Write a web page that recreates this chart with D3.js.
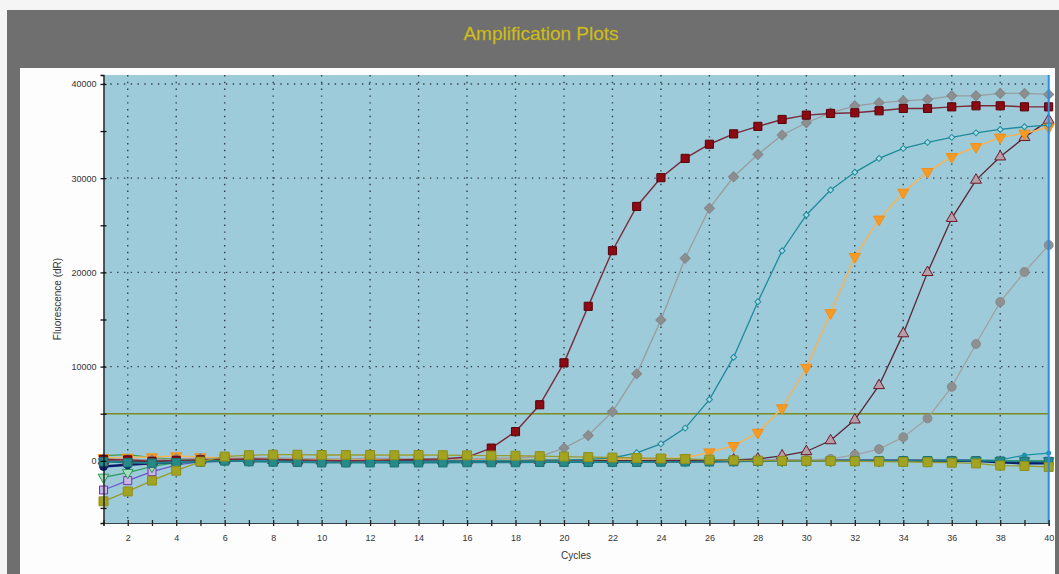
<!DOCTYPE html>
<html>
<head>
<meta charset="utf-8">
<script src="https://cdn.jsdelivr.net/npm/d3@7"></script>
<style>
  html, body { margin: 0; padding: 0; background: #f3f3f3; }
  svg { display: block; font-family: "Liberation Sans", Arial, sans-serif; }
</style>
</head>
<body>
<svg id="chart" width="1059" height="574"></svg>
<script>
// Cycle numbers (x categories)
const cycles = [1,2,3,4,5,6,7,8,9,10,11,12,13,14,15,16,17,18,19,20,
                21,22,23,24,25,26,27,28,29,30,31,32,33,34,35,36,37,38,39,40];

// Fluorescence (dR) per cycle for each well
const redSquares = [150,100,-50,50,100,150,200,150,100,50,0,50,100,150,200,400,1350,3100,5950,10400,
                    16400,22300,27000,30050,32100,33600,34700,35500,36230,36690,36870,36940,37150,37400,37400,37570,37680,37680,37570,37570];
const grayDiamonds = [200,150,100,200,250,250,300,300,250,200,200,250,250,200,200,200,250,300,450,1350,
                      2680,5200,9230,14950,21500,26800,30150,32520,34570,35880,36940,37680,38000,38210,38360,38740,38740,38990,38990,38890];
const tealDiamonds = [-50,-150,-200,-100,0,50,50,0,-50,-50,0,0,-50,-50,0,0,50,50,100,100,
                      150,300,850,1800,3470,6500,11000,16890,22300,26090,28740,30620,32100,33160,33800,34330,34810,35170,35450,35630];
const orangeTriangles = [300,350,400,500,400,300,250,200,200,150,150,150,200,200,200,200,200,150,150,150,
                         150,200,200,250,300,920,1590,3000,5600,9900,15700,21670,25630,28490,30680,32270,33330,34330,34750,35400];
const maroonTriangles = [0,-50,-100,0,50,100,100,50,0,0,0,50,50,0,0,0,0,0,50,50,
                         50,50,50,50,50,100,100,200,530,990,2150,4350,8000,13500,20000,25740,29800,32270,34330,36160];
const grayCircles = [100,50,0,50,100,150,150,100,100,50,50,100,100,100,50,50,50,100,100,100,
                     100,50,50,50,100,100,100,100,100,100,200,640,1240,2510,4500,7850,12400,16860,20040,22900];

// Wells that stay at baseline
const oliveSquares = [-4300,-3250,-2100,-1050,-80,450,600,650,650,620,620,620,600,620,600,580,560,540,500,450,
                      400,350,300,250,200,120,60,20,0,0,-20,-50,-80,-120,-150,-200,-280,-500,-550,-650];
const tealSquares = [-100,-200,-250,-200,-100,0,-80,-120,-150,-200,-200,-200,-200,-200,-200,-180,-180,-180,-150,-150,
                     -150,-150,-150,-120,-100,-100,-80,-50,-50,-30,0,0,0,0,0,0,0,-50,-80,-100];
const purpleSquares = [-3100,-2100,-1150,-450,-100,0,50,100,100,50,0,0,50,50,50,0,0,0,20,20,
                       0,0,-20,-20,0,0,20,0,0,0,0,-20,-20,0,0,0,0,-50,-50,-50];
const greenTriangles = [-1750,-1250,-600,-200,0,50,50,0,0,-50,-50,0,0,0,50,50,0,0,0,0,
                        -20,-20,0,0,0,20,20,0,0,0,0,0,0,-20,-20,0,0,0,0,0];
const navyCircles = [-600,-420,-250,-150,-50,0,50,50,0,0,-50,-50,0,0,0,0,0,-50,-50,-50,
                     -50,-50,-50,-50,-50,-50,0,0,0,0,0,0,0,0,0,0,0,-150,-250,-250];
const cyanLine = [0,-100,-100,-50,0,0,0,-50,-50,-50,-50,-50,-50,-50,-50,-50,-50,-50,-50,-50,
                  -50,-50,-50,-50,-50,-50,-50,0,0,0,0,0,0,0,50,50,50,100,600,820];
const greenLine = [550,650,350,150,50,0,0,20,20,20,0,0,0,20,20,0,0,0,0,0,
                   0,0,0,0,0,0,0,0,0,0,0,0,0,0,0,0,0,-50,-50,-50];

// Threshold and axis ticks
const threshold = 5000;
const yLabelTicks = [0, 10000, 20000, 30000, 40000];
const yMinorTicks = [-5000, 5000, 15000, 25000, 35000];
const xLabelTicks = [2,4,6,8,10,12,14,16,18,20,22,24,26,28,30,32,34,36,38,40];

const svg = d3.select("#chart");
const W = 1059, H = 574;

// Frame: grey window with title bar and white chart panel
svg.append("rect").attr("x", 0).attr("y", 0).attr("width", W).attr("height", H).attr("fill", "#f5f5f5");
svg.append("rect").attr("x", 7).attr("y", 10).attr("width", W - 7).attr("height", H - 10).attr("fill", "#6f6f6f");
svg.append("rect").attr("x", 20).attr("y", 68).attr("width", 1035).attr("height", H - 68).attr("fill", "#fdfdfd");
svg.append("text").attr("x", 541).attr("y", 40).attr("text-anchor", "middle")
  .attr("font-size", 19).attr("fill", "#d3c022").attr("stroke", "#b8a618").attr("stroke-width", 0.3)
  .text("Amplification Plots");

const plot = { left: 103.5, right: 1048.7, top: 75, bottom: 523 };
const x = d3.scaleLinear().domain([1, 40]).range([plot.left, plot.right]);
const y = d3.scaleLinear().domain([-6600, 40950]).range([plot.bottom, plot.top]);

svg.append("rect").attr("x", plot.left).attr("y", plot.top)
  .attr("width", plot.right - plot.left).attr("height", plot.bottom - plot.top).attr("fill", "#9dcbd9");

// Dotted grid
const grid = svg.append("g").attr("stroke", "#24343f").attr("stroke-width", 1.4)
  .attr("stroke-dasharray", "1.4,5.4").attr("opacity", 0.9);
grid.selectAll("line.v").data(xLabelTicks.filter(d => d < 40)).join("line")
  .attr("x1", d => x(d)).attr("x2", d => x(d)).attr("y1", plot.top).attr("y2", plot.bottom);
grid.selectAll("line.h").data(yLabelTicks.filter(d => d > 0)).join("line")
  .attr("x1", plot.left).attr("x2", plot.right).attr("y1", d => y(d)).attr("y2", d => y(d));

// Threshold line
svg.append("line").attr("x1", plot.left).attr("x2", plot.right)
  .attr("y1", y(threshold)).attr("y2", y(threshold))
  .attr("stroke", "#7f8a1c").attr("stroke-width", 1.6);

// Series definitions (drawn in order); diamonds are squares turned 45 degrees
const series = [
  { v: greenLine, line: "#3c9c48", w: 1.2, sym: null },
  { v: purpleSquares, line: "#6a5ac8", w: 1.2, sym: d3.symbolSquare, size: 64, fill: "#c9b6e8", stroke: "#7a2fb0" },
  { v: greenTriangles, line: "#2a9a5a", w: 1.2, sym: d3.symbolTriangle, size: 50, fill: "#a8dcc0", stroke: "#2a9a50", rot: 180 },
  { v: navyCircles, line: "#0c1a6a", w: 2.6, sym: d3.symbolCircle, size: 50, fill: "#0c1f7a", stroke: "#0c1a6a" },
  { v: cyanLine, line: "#1a93a8", w: 1.2, sym: d3.symbolCircle, size: 14, fill: "#1a93a8", stroke: "#1a93a8" },
  { v: grayCircles, line: "#a2a2a2", w: 1.3, sym: d3.symbolCircle, size: 62, fill: "#8e9090", stroke: "#8a8a8a" },
  { v: maroonTriangles, line: "#5a2434", w: 1.3, sym: d3.symbolTriangle, size: 52, fill: "#b79ea6", stroke: "#6e1828" },
  { v: orangeTriangles, line: "#f5b458", w: 1.5, sym: d3.symbolTriangle, size: 55, fill: "#f49a25", stroke: "#f28f18", rot: 180 },
  { v: tealDiamonds, line: "#1f8a9c", w: 1.3, sym: d3.symbolSquare, size: 18, fill: "#a9dbe0", stroke: "#1f8a9c", rot: 45 },
  { v: grayDiamonds, line: "#9a9c9e", w: 1.3, sym: d3.symbolSquare, size: 50, fill: "#8c8e90", stroke: "#858789", rot: 45 },
  { v: redSquares, line: "#7a2a3a", w: 1.4, sym: d3.symbolSquare, size: 66, fill: "#8c0a12", stroke: "#5a0008" },
  { v: tealSquares, line: "#1f7f86", w: 1.6, sym: d3.symbolSquare, size: 72, fill: "#258a88", stroke: "#1d7372" },
  { v: oliveSquares, line: "#9a9a2c", w: 1.3, sym: d3.symbolSquare, size: 80, fill: "#a3a322", stroke: "#8e8e1a" }
];

const lineGen = d3.line().x((d, i) => x(cycles[i])).y(d => y(d));
svg.append("clipPath").attr("id", "plotclip").append("rect")
  .attr("x", plot.left - 6).attr("y", plot.top).attr("width", plot.right - plot.left + 12)
  .attr("height", plot.bottom - plot.top);
const curves = svg.append("g").attr("clip-path", "url(#plotclip)");

series.forEach(s => {
  const g = curves.append("g");
  g.append("path").datum(s.v).attr("d", lineGen)
    .attr("fill", "none").attr("stroke", s.line).attr("stroke-width", s.w);
  if (s.sym) {
    g.selectAll("path.m").data(s.v).join("path").attr("class", "m")
      .attr("d", d3.symbol().type(s.sym).size(s.size))
      .attr("transform", (d, i) => `translate(${x(cycles[i])},${y(d)})` + (s.rot ? ` rotate(${s.rot})` : ""))
      .attr("fill", s.fill).attr("stroke", s.stroke).attr("stroke-width", 1);
  }
});

// Cursor line on the last cycle
svg.append("line").attr("x1", x(40)).attr("x2", x(40)).attr("y1", plot.top).attr("y2", plot.bottom)
  .attr("stroke", "#2a8ce6").attr("stroke-width", 2);

// X axis
const xAxis = svg.append("g").attr("transform", `translate(0,${plot.bottom})`)
  .call(d3.axisBottom(x).tickValues(cycles).tickSizeOuter(0).tickSize(3).tickPadding(9)
    .tickFormat(d => xLabelTicks.includes(d) ? d : ""));
xAxis.select(".domain").attr("stroke", "#3a4048").attr("stroke-width", 1.2);
xAxis.selectAll(".tick line").attr("y1", -3).attr("y2", 3).attr("stroke", "#222").attr("stroke-width", 1.3);
xAxis.selectAll(".tick text").attr("font-size", 9).attr("fill", "#333").attr("font-family", "'Liberation Sans', Arial, sans-serif");

svg.append("text").attr("x", (plot.left + plot.right) / 2).attr("y", 559)
  .attr("text-anchor", "middle").attr("font-size", 10).attr("fill", "#333").text("Cycles");

// Y axis
const yAxis = svg.append("g").attr("transform", `translate(${plot.left},0)`)
  .call(d3.axisLeft(y).tickValues(yLabelTicks.concat(yMinorTicks)).tickSizeOuter(0).tickSize(3).tickPadding(4)
    .tickFormat(d => yLabelTicks.includes(d) ? d : ""));
yAxis.select(".domain").attr("stroke", "#111").attr("stroke-width", 1.3);
yAxis.selectAll(".tick line").attr("x1", -3).attr("x2", 3).attr("stroke", "#111").attr("stroke-width", 1.3);
yAxis.selectAll(".tick text").attr("font-size", 9).attr("fill", "#333").attr("font-family", "'Liberation Sans', Arial, sans-serif");

svg.append("text").attr("transform", `translate(61,${(plot.top + plot.bottom) / 2}) rotate(-90)`)
  .attr("text-anchor", "middle").attr("font-size", 10).attr("fill", "#333").text("Fluorescence (dR)");
</script>
</body>
</html>
